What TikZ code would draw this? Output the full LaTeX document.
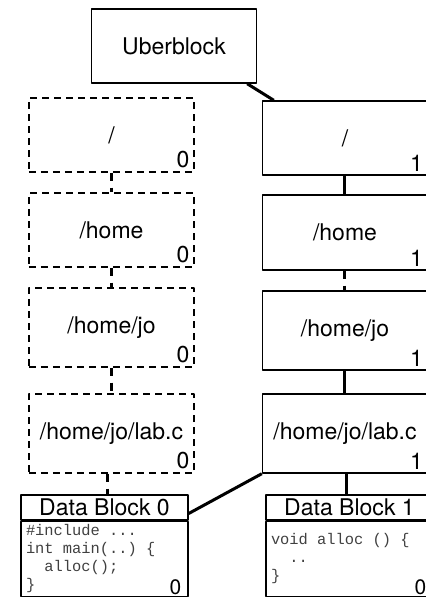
\documentclass[tikz,border=0pt]{standalone}
\usepackage{fontspec}
\setmainfont{TeX Gyre Heros}
\setmonofont{Liberation Mono}[WordSpace={1,0,0}]
\newcommand{\csp}{\makebox[0.6em]{}}
\begin{document}
\begin{tikzpicture}[x=0.5pt,y=-0.5pt,line join=round,
  inode/.style={draw,line width=0.7pt,minimum width=82.5pt,minimum height=37pt,inner sep=0pt,font=\fontsize{11.5}{14}\selectfont},
  tallnode/.style={inode,minimum height=39.5pt},
  oldline/.style={dash pattern=on 3.5pt off 2.5pt},
  ver/.style={font=\fontsize{11.5}{14}\selectfont,inner sep=0pt,anchor=south east},
  ptr/.style={line width=1.5pt},
  oldptr/.style={ptr,dash pattern=on 4pt off 3.5pt},
  dhead/.style={draw,line width=0.7pt,minimum width=83.5pt,minimum height=12.5pt,inner sep=0pt,font=\fontsize{11.5}{14}\selectfont},
  dbody/.style={draw,line width=0.7pt,minimum width=83.5pt,minimum height=37.5pt,inner xsep=2.5pt,inner ysep=0pt,text width=78.5pt,align=left,text=black!75,font=\fontsize{7.7}{9}\ttfamily}]
\useasboundingbox (0,0) rectangle (426,602);
\clip (0,0) rectangle (426,602);

% uberblock
\node[inode] (ub) at (174,46) {Uberblock};

% old tree (version 0)
\node[inode,oldline] (l1) at (111.5,135) {/};
\node[inode,oldline] (l2) at (111.5,230) {/home};
\node[tallnode,oldline] (l3) at (111.5,327.5) {/home/jo};
\node[tallnode,oldline] (l4) at (111.5,433.5) {/home/jo/lab.c};
\foreach \n in {l1,l2,l3,l4}
  \node[ver] (\n v) at ([xshift=-2.5pt,yshift=2pt]\n.south east) {0};

% new tree (version 1)
\node[inode] (r1) at (345,138) {/};
\node[inode,minimum height=37.5pt] (r2) at (345,232.5) {/home};
\node[tallnode] (r3) at (345,330.5) {/home/jo};
\node[tallnode] (r4) at (345,433.5) {/home/jo/lab.c};
\foreach \n in {r1,r2,r3,r4}
  \node[ver] (\n v) at ([xshift=-2.5pt,yshift=2pt]\n.south east) {1};

% data blocks
\node[dhead] (d0h) at (104.5,507.5) {Data Block 0};
\node[dbody,anchor=north] (d0b) at (d0h.south) {\#include\csp...\\int\csp main(..)\csp\{\\\csp\csp alloc();\\\}};
\node[ver,font=\fontsize{10.5}{12}\selectfont] (d0v) at ([xshift=-3.5pt,yshift=1pt]d0b.south east) {0};
\node[dhead] (d1h) at (349.5,507.5) {Data Block 1};
\node[dbody,anchor=north] (d1b) at (d1h.south) {void\csp alloc\csp ()\csp\{\\\csp\csp..\\\}};
\node[ver,font=\fontsize{10.5}{12}\selectfont] (d1v) at ([xshift=-3.5pt,yshift=1pt]d1b.south east) {0};

% pointers
\draw[oldptr] (l1.south) -- (l2.north);
\draw[oldptr] (l2.south) -- (l3.north);
\draw[oldptr] (l3.south) -- (l4.north);
\draw[oldptr] ([xshift=-2pt]l4.south) -- ([xshift=-2pt]l4.south |- d0h.north);
\draw[ptr] ([xshift=-5pt]ub.south east) -- ([xshift=6pt]r1.north west);
\draw[ptr] (r1.south) -- (r2.north);
\draw[oldptr] (r2.south) -- (r3.north);
\draw[ptr] (r3.south) -- (r4.north);
\draw[ptr] ([xshift=1pt]r4.south) -- ([xshift=1pt]r4.south |- d1h.north);
\coordinate (d0in) at ([yshift=-3pt]d0h.east);
\draw[ptr] (r4.south west) -- (d0in);
\end{tikzpicture}
\end{document}
